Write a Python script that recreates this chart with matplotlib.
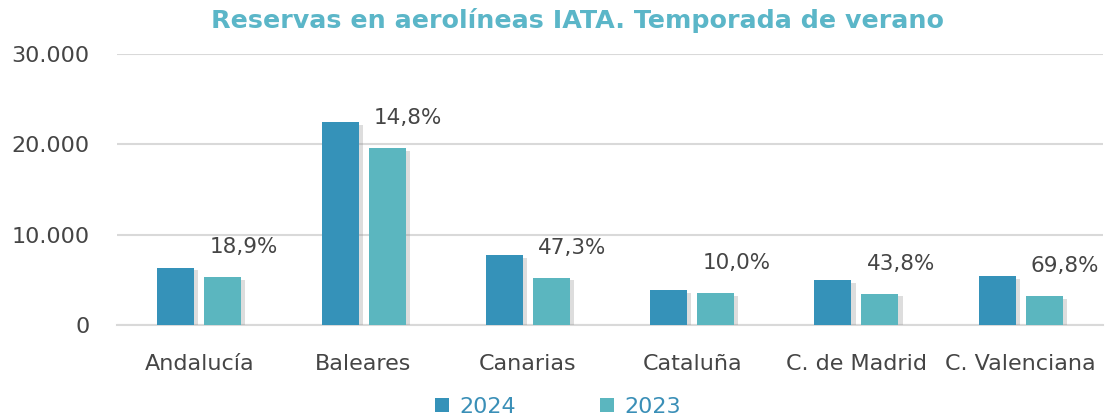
import matplotlib.pyplot as plt
import matplotlib.patheffects as pe
from matplotlib.patches import Patch
import numpy as np

categories = ["Andalucía", "Baleares", "Canarias", "Cataluña", "C. de Madrid", "C. Valenciana"]
v2024 = [6350, 22500, 7750, 3900, 5000, 5400]
v2023 = [5300, 19600, 5260, 3550, 3480, 3180]
pct_labels = ["18,9%", "14,8%", "47,3%", "10,0%", "43,8%", "69,8%"]
ytick_vals = [0, 10000, 20000, 30000]
ytick_labels = ["0", "10.000", "20.000", "30.000"]

c2024 = "#3592b9"
c2023 = "#5bb6bf"
txt = "#454545"

plt.rcParams['font.family'] = ['DejaVu Sans']

fig = plt.figure(figsize=(11.05, 4.19), dpi=100)
ax = fig.add_axes([0.106, 0.2243, 0.892, 0.6468])

x = np.arange(len(categories))
w = 0.225
shadow = [pe.SimplePatchShadow(offset=(3, -2), shadow_rgbFace="#909090", alpha=0.3), pe.Normal()]
b1 = ax.bar(x - 0.143, v2024, w, color=c2024, zorder=3)
b2 = ax.bar(x + 0.143, v2023, w, color=c2023, zorder=3)
for b in list(b1) + list(b2):
    b.set_path_effects(shadow)

for i, lab in enumerate(pct_labels):
    ax.text(x[i] + 0.27, v2023[i] + 3300, lab, ha="center", va="center",
            fontsize=15.5, color=txt)

ax.set_xlim(-0.5, 5.5)
ax.set_ylim(0, 30000)
ax.set_yticks(ytick_vals)
ax.set_yticklabels(ytick_labels, fontsize=16, color=txt)
ax.set_xticks(x)
ax.set_xticklabels(categories, fontsize=16, color=txt)
ax.tick_params(length=0)
ax.tick_params(axis="y", pad=20)
ax.tick_params(axis="x", pad=21)
ax.grid(axis="y", color="#d9d9d9", linewidth=1.5, zorder=0)
for s in ["top", "right", "left"]:
    ax.spines[s].set_visible(False)
ax.spines["bottom"].set_color("#d9d9d9")
ax.spines["bottom"].set_linewidth(1.5)

fig.text(0.523, 0.952, "Reservas en aerolíneas IATA. Temporada de verano",
         ha="center", va="center", fontsize=18.3, fontweight="bold", color="#5bb6c8")

handles = [Patch(facecolor=c2024), Patch(facecolor=c2023)]
leg = fig.legend(handles=handles, labels=["2024", "2023"], loc="center",
                 bbox_to_anchor=(0.505, 0.029), ncol=2, frameon=False,
                 fontsize=16, handlelength=0.63, handleheight=0.63,
                 columnspacing=3.8, handletextpad=0.45)
for t in leg.get_texts():
    t.set_color("#3a8fb7")

fig.savefig("out.png", dpi=100)
